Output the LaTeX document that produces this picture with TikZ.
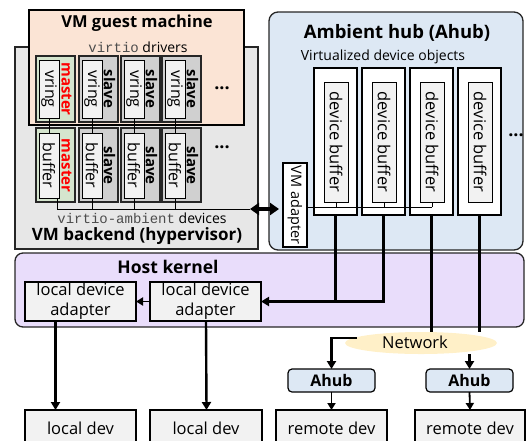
\documentclass[tikz,border=0pt]{standalone}
\usepackage{fontspec}
\setmainfont{Open Sans}
\newfontfamily\monof{Liberation Mono}
\usetikzlibrary{arrows.meta,shapes.geometric}
\definecolor{backgray}{HTML}{E7E7E7}
\definecolor{guestpeach}{HTML}{FBE4D5}
\definecolor{mastergreen}{HTML}{D5E5CE}
\definecolor{slavegray}{HTML}{D0D0D0}
\definecolor{innergray}{HTML}{F2F2F2}
\definecolor{ahubblue}{HTML}{DDE8F4}
\definecolor{hostpurple}{HTML}{E9DDFB}
\definecolor{netyellow}{HTML}{FFF0C8}
\begin{document}
\begin{tikzpicture}[x=1pt,y=-1pt,
  base/.style={inner sep=0pt, outer sep=0pt},
  frame/.style={base, draw=black!85, line width=1.3pt},
  cellbox/.style={base, draw=black!85, line width=1.6pt, minimum width=39pt, minimum height=#1},
  innerbox/.style={base, draw=black, line width=1pt, fill=innergray},
  title/.style={font=\fontsize{#1}{20}\selectfont\bfseries},
  txt/.style={font=\fontsize{16.5}{20}\selectfont, align=center},
  small/.style={font=\fontsize{14}{16}\selectfont},
  celltxt/.style={font=\fontsize{16}{18}\selectfont},
  thinline/.style={line width=0.8pt},
  thickline/.style={line width=2.4pt},
  thickarrow/.style={line width=2.4pt, -{Triangle[length=8pt,width=9pt]}},
  thinarrow/.style={line width=1.8pt, -{Triangle[length=7pt,width=8pt]}},
  dblarrow/.style={line width=4pt, {Triangle[length=9pt,width=12pt]}-{Triangle[length=9pt,width=12pt]}},
  dots/.style={font=\fontsize{18}{18}\selectfont\bfseries}]
\useasboundingbox (0,0) rectangle (526,440);

% ---------- VM backend ----------
\node[frame, fill=backgray, minimum width=243pt, minimum height=202pt, anchor=north west] (backend) at (15,47) {};
\node[title=17] (backendtitle) at (137,236) {VM backend (hypervisor)};
\node[font=\fontsize{14}{16}\selectfont] (backendsub) at (142,218) {{\monof\color{black!70}virtio-ambient} devices};

% ---------- VM guest machine ----------
\node[frame, draw=black, fill=guestpeach, minimum width=215pt, minimum height=115pt, anchor=north west] (guest) at (29,10) {};
\node[title=16.5] (guesttitle) at (137,23) {VM guest machine};
\node[font=\fontsize{14}{16}\selectfont] (guestsub) at (138,47) {{\monof\color{black!70}virtio} drivers};

% ---------- vring / buffer cells ----------
\foreach \i/\L/\fc/\lab/\lc in {0/36/mastergreen/master/red, 1/79/slavegray/slave/black, 2/121/slavegray/slave/black, 3/162/slavegray/slave/black} {
  \node[cellbox=66pt, fill=\fc, anchor=north west] (vc\i) at (\L,56) {};
  \node[cellbox=74pt, fill=\fc, anchor=north west] (bc\i) at (\L,128) {};
  \node[innerbox, minimum width=20pt, minimum height=58pt, celltxt] (vi\i) at (\L+13,89) {\rotatebox{-90}{vring}};
  \node[innerbox, minimum width=20pt, minimum height=65pt, celltxt] (bi\i) at (\L+13,165.5) {\rotatebox{-90}{buffer}};
  \node[base, text=\lc, font=\fontsize{15}{16}\selectfont\bfseries] (vl\i) at (\L+30.5,89) {\rotatebox{-90}{\lab}};
  \node[base, text=\lc, font=\fontsize{15}{16}\selectfont\bfseries] (bl\i) at (\L+30.5,165.5) {\rotatebox{-90}{\lab}};
  \draw[thinline] (vi\i.south) -- (bi\i.north);
}
\node[dots] (dotsv) at (222,88) {...};
\node[dots] (dotsb) at (222,147) {...};

% bus in backend
\coordinate (busend) at (250,209);
\draw[thinline] ([xshift=8pt]bi0.south) |- (busend);
\foreach \i in {1,2,3} \draw[thinline] (bi\i.south) -- (bi\i.south |- busend);

% ---------- Ambient hub ----------
\node[frame, fill=ahubblue, rounded corners=9pt, minimum width=254pt, minimum height=238pt, anchor=north west] (ahub) at (269,12) {};
\node[title=18.5] (ahubtitle) at (397,33) {Ambient hub (Ahub)};
\node[small] (ahubsub) at (383,57) {Virtualized device objects};
\foreach \i/\L in {0/314, 1/362, 2/410, 3/458} {
  \node[base, draw=black, line width=1.3pt, fill=white, minimum width=43pt, minimum height=147pt, anchor=north west] (do\i) at (\L,68) {};
  \node[innerbox, minimum width=24pt, minimum height=120pt, font=\fontsize{16.5}{18}\selectfont] (db\i) at (\L+22,142) {\rotatebox{-90}{device buffer}};
}
\node[dots] (dotsa) at (516,135) {...};
\node[base, draw=black, line width=1.1pt, fill=white, minimum width=24pt, minimum height=84pt, anchor=north west, font=\fontsize{14.5}{16}\selectfont] (vmad) at (283,163) {\rotatebox{-90}{VM adapter}};

\coordinate (ahbus) at (432,207);
\draw[thinline] (vmad.east |- ahbus) -- (ahbus);
\foreach \i in {0,1,2} \draw[thinline] (db\i.south) -- (db\i.south |- ahbus);

\coordinate (adin) at (279,209);
\draw[dblarrow] (busend) -- (adin);

% ---------- Host kernel ----------
\node[frame, fill=hostpurple, rounded corners=8pt, minimum width=509pt, minimum height=74pt, anchor=north west] (host) at (15,253) {};
\node[title=17.5] (hosttitle) at (168,267) {Host kernel};
\node[base, draw=black, line width=1.2pt, fill=innergray, minimum width=111pt, minimum height=39pt, anchor=north west, txt] (la1) at (25,282) {local device\\adapter};
\node[base, draw=black, line width=1.2pt, fill=innergray, minimum width=111pt, minimum height=39pt, anchor=north west, txt] (la2) at (150,282) {local device\\adapter};
\draw[thinarrow] (la2.west) -- (la1.east);

% device object lines
\draw[thickline] (do0.south) -- (do0.south |- la2.east);
\draw[thickarrow] (do1.south) |- (la2.east);

% ---------- Network ----------
\node[base, ellipse, fill=netyellow, minimum width=152pt, minimum height=22pt] (net) at (421,343) {};
\node[font=\fontsize{16.5}{18}\selectfont] (nettext) at (415,342) {Network};
\draw[thickline] (do2.south) -- (do2.south |- net.north);
\draw[thickline] (do3.south) -- (do3.south |- net.north);

% ---------- Ahub boxes and devices ----------
\node[base, draw=black, line width=1.2pt, fill=ahubblue, rounded corners=4pt, minimum width=87pt, minimum height=23pt, anchor=north west, font=\fontsize{16}{18}\selectfont\bfseries] (ah1) at (288,369) {Ahub};
\node[base, draw=black, line width=1.2pt, fill=ahubblue, rounded corners=4pt, minimum width=87pt, minimum height=23pt, anchor=north west, font=\fontsize{16}{18}\selectfont\bfseries] (ah2) at (426,369) {Ahub};
\coordinate (netw) at (357,338);
\draw[thickarrow] (netw) -| (ah1.north);
\draw[thickarrow] (ah2.north |- net.south) -- (ah2.north);

\node[base, draw=black, line width=1.2pt, fill=innergray, minimum width=111pt, minimum height=36pt, anchor=north west, txt] (rd1) at (276,410) {remote dev};
\node[base, draw=black, line width=1.2pt, fill=innergray, minimum width=110pt, minimum height=36pt, anchor=north west, txt] (rd2) at (415,410) {remote dev};
\node[base, draw=black, line width=1.2pt, fill=innergray, minimum width=111pt, minimum height=36pt, anchor=north west, txt] (ld1) at (25,410) {local dev};
\node[base, draw=black, line width=1.2pt, fill=innergray, minimum width=112pt, minimum height=36pt, anchor=north west, txt] (ld2) at (150,410) {local dev};

\draw[thinarrow] (ah1.south) -- (rd1.north);
\draw[thinarrow] (ah2.south) -- (rd2.north);
\draw[thickarrow] ([xshift=-25pt]la1.south) -- ([xshift=-25pt]ld1.north);
\draw[thickarrow] ([xshift=0.5pt]la2.south) -- ([xshift=0.5pt]ld2.north);
\end{tikzpicture}
\end{document}
